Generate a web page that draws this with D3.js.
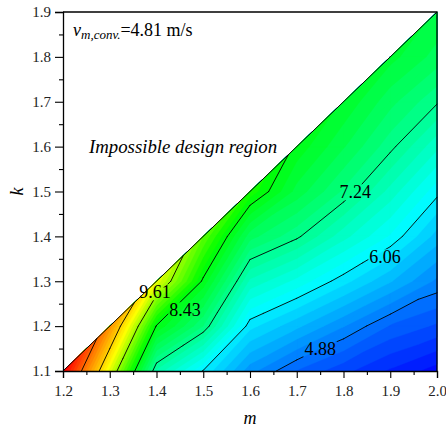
<!DOCTYPE html>
<html><head><meta charset="utf-8">
<script src="https://cdn.jsdelivr.net/npm/d3@7"></script>
<style>body{margin:0;background:#fff}svg{display:block}</style>
</head><body>
<svg id="c" width="446" height="427"></svg>
<script>
// ---- data ----
const mValues = [1.2, 1.3, 1.4, 1.5, 1.6, 1.7, 1.8, 1.9, 2.0];
const kValues = [1.1, 1.2, 1.3, 1.4, 1.5, 1.6, 1.7, 1.8, 1.9];
// velocity per m column, k = 1.1 upward to the design limit k = m - 0.1
const vM12 = [13.2];
const vM13 = [10.09, 11.50];
const vM14 = [6.99, 8.40, 10.16];
const vM15 = [6.04, 7.43, 8.36, 9.20];
const vM16 = [5.15, 5.93, 6.80, 7.71, 8.75];
const vM17 = [4.67, 5.52, 6.39, 7.29, 7.95, 8.36];
const vM18 = [4.35, 5.09, 5.94, 6.72, 7.40, 7.85, 8.20];
const vM19 = [4.06, 4.66, 5.49, 6.23, 6.77, 7.31, 7.70, 8.10];
const vM20 = [3.80, 4.45, 5.03, 5.58, 6.13, 6.70, 7.27, 7.75, 8.00];
const contourLevels = [4.88, 6.06, 7.24, 8.43, 9.61, 10.79, 11.97];
const labelTexts = ["4.88", "6.06", "7.24", "8.43", "9.61"];
const labelM = [1.750, 1.889, 1.825, 1.461, 1.397];
const labelK = [1.149, 1.354, 1.499, 1.236, 1.276];
const xTicks = [1.2, 1.3, 1.4, 1.5, 1.6, 1.7, 1.8, 1.9, 2.0];
const yTicks = [1.1, 1.2, 1.3, 1.4, 1.5, 1.6, 1.7, 1.8, 1.9];
const colorStops = [3.7, 6.2, 8.6, 10.3, 13.1];
const colorRange = ["#0000ff", "#00ffff", "#00ff00", "#ffff00", "#ff0000"];

const grid = [vM12, vM13, vM14, vM15, vM16, vM17, vM18, vM19, vM20];

// ---- layout ----
const svg = d3.select("#c");
const L = 63, R = 437, T = 12, B = 371;
const x = d3.scaleLinear().domain([1.2, 2.0]).range([L, R]);
const y = d3.scaleLinear().domain([1.1, 1.9]).range([B, T]);
const color = d3.scaleLinear().domain(colorStops).range(colorRange).clamp(true);
const serif = "'Liberation Serif','Times New Roman',serif";

// triangles
const tris = [];
function pt(i, j) { return {x: x(mValues[i]), y: y(kValues[j]), v: grid[i][j]}; }
function has(i, j) { return j < grid[i].length; }
for (let i = 0; i < mValues.length - 1; i++) {
  for (let j = 0; j < kValues.length - 1; j++) {
    if (has(i, j) && has(i + 1, j) && has(i + 1, j + 1)) tris.push([pt(i, j), pt(i + 1, j), pt(i + 1, j + 1)]);
    if (has(i, j) && has(i, j + 1) && has(i + 1, j + 1)) tris.push([pt(i, j), pt(i + 1, j + 1), pt(i, j + 1)]);
  }
}
function clipAbove(poly, t) {
  const out = [];
  for (let a = 0; a < poly.length; a++) {
    const P = poly[a], Q = poly[(a + 1) % poly.length];
    const pin = P.v >= t, qin = Q.v >= t;
    if (pin) out.push(P);
    if (pin !== qin) {
      const f = (t - P.v) / (Q.v - P.v);
      out.push({x: P.x + f * (Q.x - P.x), y: P.y + f * (Q.y - P.y), v: t});
    }
  }
  return out;
}
function polyPath(p) { return "M" + p.map(d => d.x.toFixed(2) + "," + d.y.toFixed(2)).join("L") + "Z"; }

const vmax = d3.max(grid.flat());
const bandStep = 1.18 / 6, bandBase = 3.70;
const thresholds = d3.range(bandBase, vmax, bandStep);

const fillG = svg.append("g");
thresholds.forEach((t, n) => {
  let d = "";
  tris.forEach(tr => {
    const p = n === 0 ? tr : clipAbove(tr, t);
    if (p.length >= 3) d += polyPath(p);
  });
  const c = color(t + bandStep / 2);
  fillG.append("path").attr("d", d).attr("fill", c).attr("stroke", c).attr("stroke-width", 0.4).attr("stroke-linejoin", "round");
});

// contour lines with label gaps
const defs = svg.append("defs");
const mask = defs.append("mask").attr("id", "lblmask").attr("maskUnits", "userSpaceOnUse")
  .attr("x", 0).attr("y", 0).attr("width", 446).attr("height", 427);
mask.append("rect").attr("x", 0).attr("y", 0).attr("width", 446).attr("height", 427).attr("fill", "#fff");

const lineG = svg.append("g").attr("mask", "url(#lblmask)");
contourLevels.forEach(lv => {
  let d = "";
  tris.forEach(tr => {
    const ps = [];
    for (let a = 0; a < 3; a++) {
      const P = tr[a], Q = tr[(a + 1) % 3];
      if ((P.v - lv) * (Q.v - lv) < 0) {
        const f = (lv - P.v) / (Q.v - P.v);
        ps.push([P.x + f * (Q.x - P.x), P.y + f * (Q.y - P.y)]);
      }
    }
    if (ps.length === 2) d += "M" + ps[0][0].toFixed(2) + "," + ps[0][1].toFixed(2) + "L" + ps[1][0].toFixed(2) + "," + ps[1][1].toFixed(2);
  });
  lineG.append("path").attr("d", d).attr("fill", "none").attr("stroke", "#000").attr("stroke-width", 0.9).attr("stroke-linecap", "round");
});

const lblG = svg.append("g");
labelTexts.forEach((s, i) => {
  const t = lblG.append("text").attr("x", x(labelM[i])).attr("y", y(labelK[i]))
    .attr("text-anchor", "middle").attr("dy", "0.35em")
    .attr("font-family", serif).attr("font-size", 18).attr("fill", "#000").text(s);
  const bb = t.node().getBBox();
  mask.append("rect").attr("x", bb.x - 1).attr("y", bb.y + 2).attr("width", bb.width + 2).attr("height", bb.height - 4).attr("fill", "#000");
});

// boundary diagonal
svg.append("line").attr("x1", x(1.2)).attr("y1", y(1.1)).attr("x2", x(2.0)).attr("y2", y(1.9))
  .attr("stroke", "#000").attr("stroke-width", 1);

// frame
svg.append("path").attr("d", `M${L},${T}H${R}V${B}`).attr("fill", "none").attr("stroke", "#000").attr("stroke-width", 1.3);

// axes
const minorX = d3.range(1.25, 2.0, 0.1);
const minorY = d3.range(1.15, 1.9, 0.1);
const xAxis = svg.append("g").attr("transform", `translate(0,${B})`)
  .call(d3.axisBottom(x).tickValues(xTicks).tickSize(7).tickPadding(7).tickFormat(d3.format(".1f")));
svg.append("g").attr("transform", `translate(0,${B})`)
  .call(d3.axisBottom(x).tickValues(minorX).tickSize(4).tickFormat("")).select(".domain").remove();
const yAxis = svg.append("g").attr("transform", `translate(${L},0)`)
  .call(d3.axisLeft(y).tickValues(yTicks).tickSize(8).tickPadding(4).tickFormat(d3.format(".1f")));
svg.append("g").attr("transform", `translate(${L},0)`)
  .call(d3.axisLeft(y).tickValues(minorY).tickSize(4).tickFormat("")).select(".domain").remove();
svg.selectAll(".domain").attr("stroke-width", 1.3);
svg.selectAll(".tick line").attr("stroke-width", 1.1);
svg.selectAll(".tick text").attr("font-family", serif).attr("font-size", 15).attr("fill", "#222");

// axis titles
svg.append("text").attr("x", (L + R) / 2).attr("y", 424).attr("text-anchor", "middle")
  .attr("font-family", serif).attr("font-style", "italic").attr("font-size", 18).text("m");
svg.append("text").attr("transform", `translate(23,${(T + B) / 2}) rotate(-90)`).attr("text-anchor", "middle")
  .attr("font-family", serif).attr("font-style", "italic").attr("font-size", 18).text("k");

// annotations
const ann = svg.append("text").attr("x", 73).attr("y", 36).attr("font-family", serif).attr("font-size", 18);
ann.append("tspan").attr("font-style", "italic").text("v");
ann.append("tspan").attr("font-style", "italic").attr("font-size", 13).attr("dy", 3).text("m,conv.");
ann.append("tspan").attr("dy", -3).text("=4.81 m/s");

svg.append("text").attr("x", 89).attr("y", 153).attr("font-family", serif).attr("font-style", "italic")
  .attr("font-size", 18.8).text("Impossible design region");
</script>
</body></html>
